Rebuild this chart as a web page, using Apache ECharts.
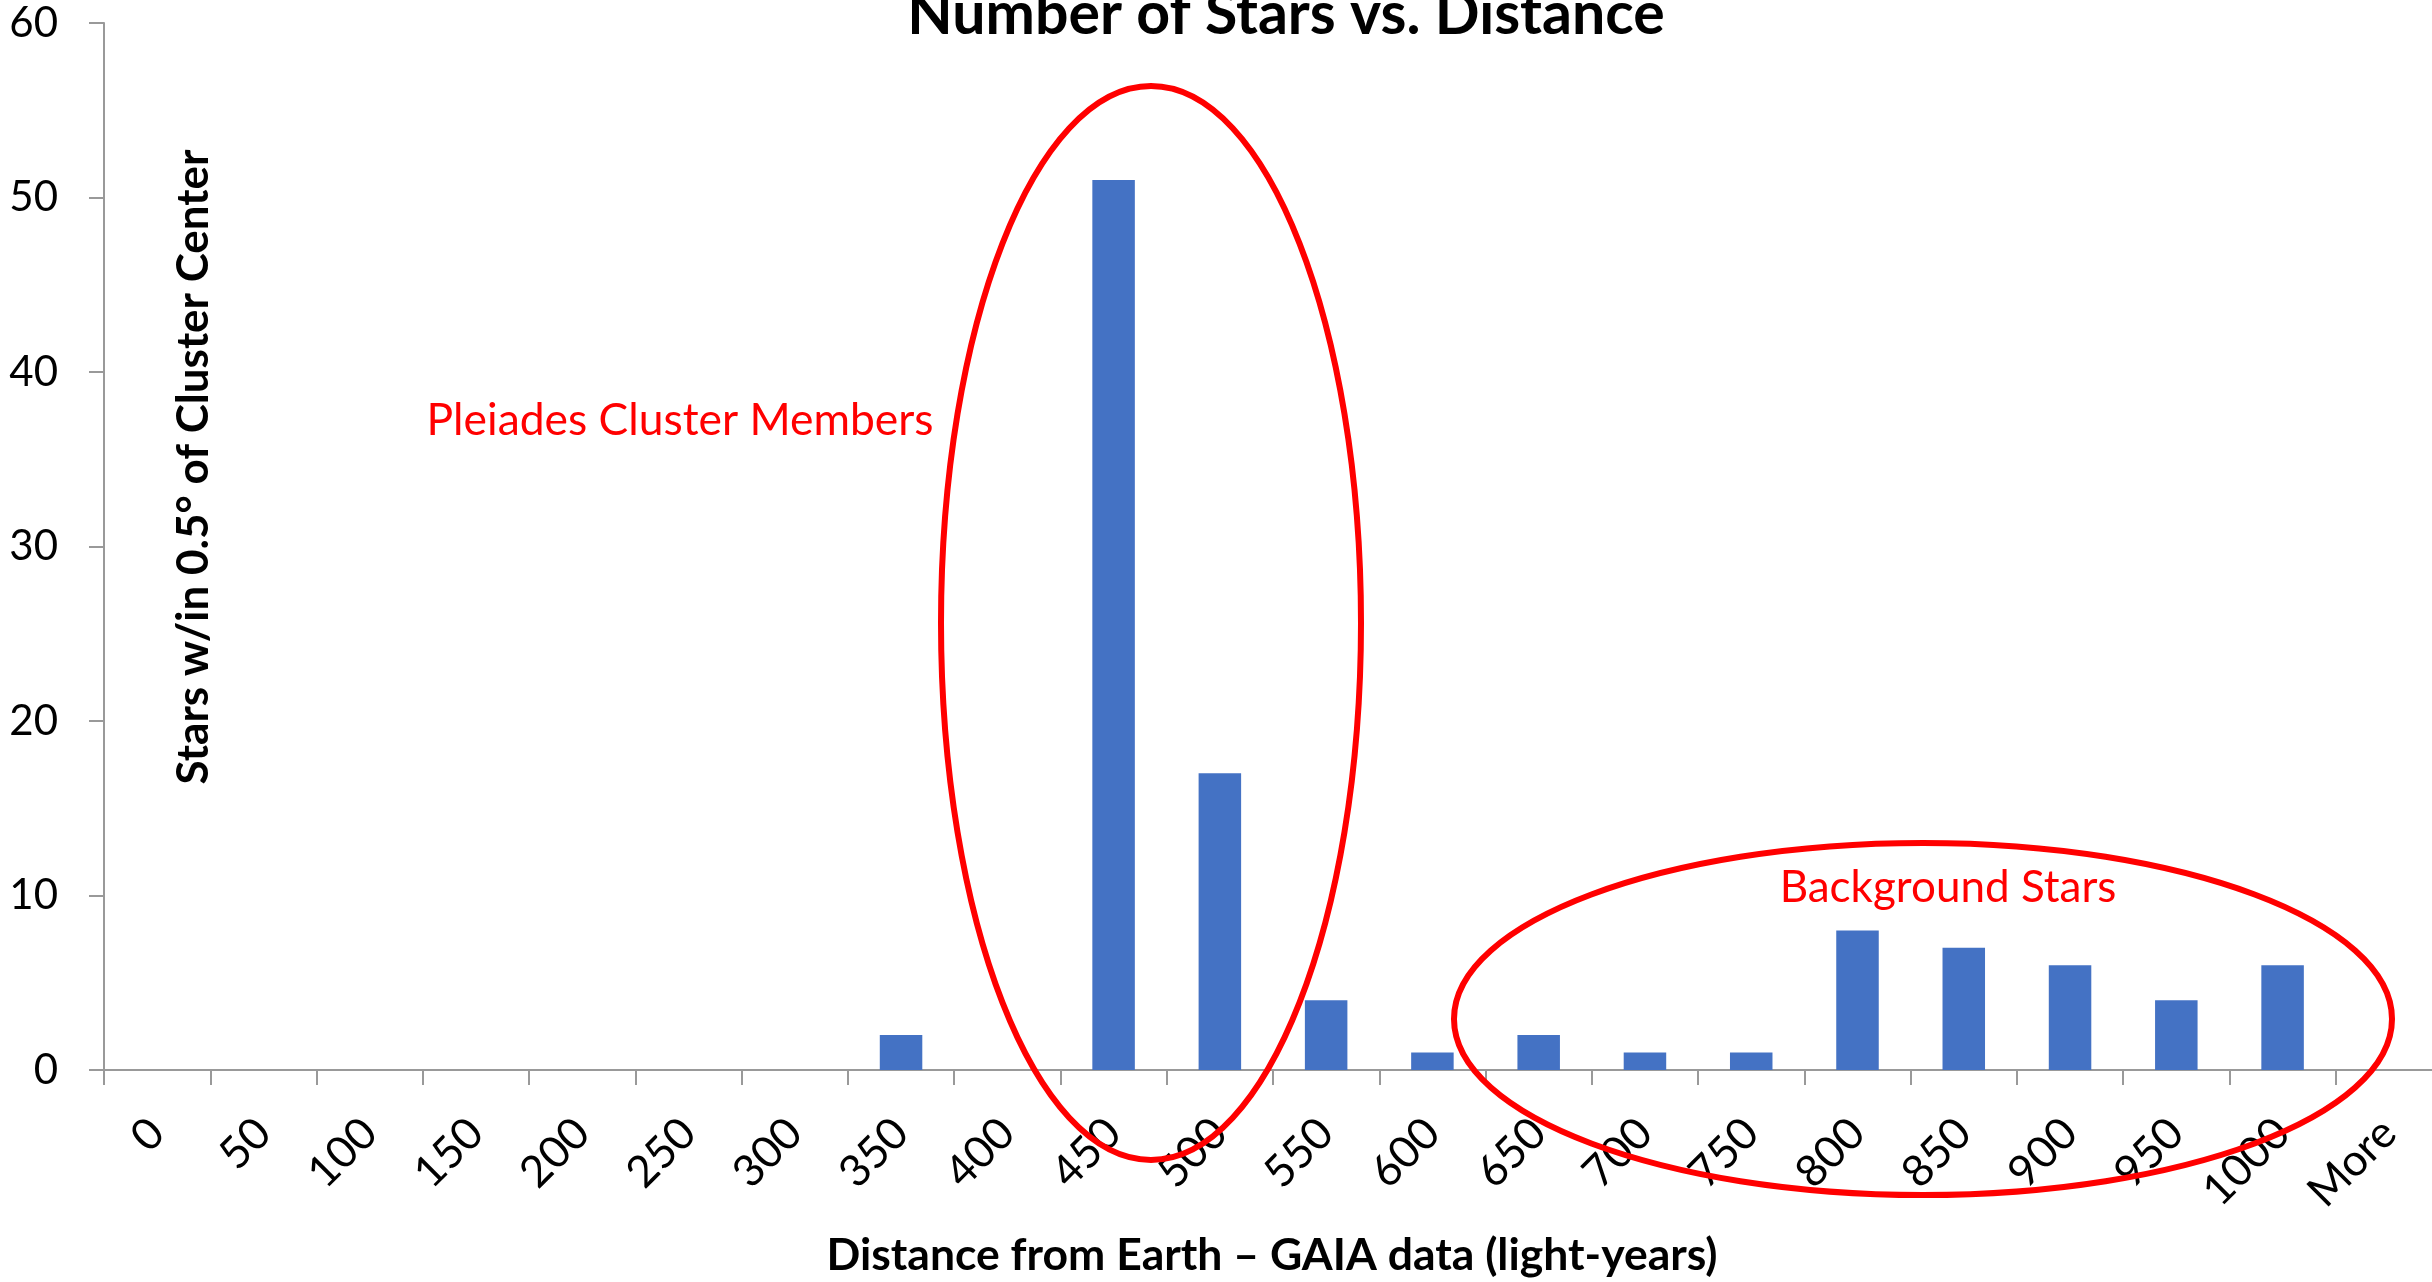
<!DOCTYPE html>
<html><head><meta charset="utf-8">
<script src="https://cdn.jsdelivr.net/npm/echarts@6/dist/echarts.min.js"></script>
<style>html,body{margin:0;padding:0;background:#fff}#c{width:2432px;height:1282px}</style>
</head><body><div id="c"></div>
<script>
// ---- data ----
const categories = ['0','50','100','150','200','250','300','350','400','450','500','550','600','650','700','750','800','850','900','950','1000','More'];
const starCounts = [0,0,0,0,0,0,0,2,0,51,17,4,1,2,1,1,8,7,6,4,6,0];
const yMin = 0, yMax = 60, yInterval = 10;
const chartTitle = 'Number of Stars vs. Distance';
const xTitle = 'Distance from Earth \u2013 GAIA data (light-years)';
const yTitle = 'Stars w/in 0.5\u00B0 of Cluster Center';
const noteCluster = 'Pleiades Cluster Members';
const noteBackground = 'Background Stars';

const FONT = 'Lato, "Open Sans", sans-serif';
const AXIS_GREY = '#999999';
const chart = echarts.init(document.getElementById('c'), null, {renderer: 'canvas'});
chart.setOption({
  backgroundColor: '#ffffff',
  animation: false,
  grid: {left: 104, top: 23, width: 2338, height: 1047, containLabel: false, outerBoundsMode: 'none'},
  xAxis: {
    type: 'category', data: categories, boundaryGap: true,
    axisLine: {lineStyle: {color: AXIS_GREY, width: 2}},
    axisTick: {show: true, length: 15, lineStyle: {color: AXIS_GREY, width: 2}},
    axisLabel: {interval: 0, rotate: 45, margin: 56, color: '#000', fontFamily: FONT, fontSize: 44},
    splitLine: {show: false}
  },
  yAxis: {
    type: 'value', min: yMin, max: yMax, interval: yInterval,
    axisLine: {show: true, lineStyle: {color: AXIS_GREY, width: 2}},
    axisTick: {show: true, length: 15, lineStyle: {color: AXIS_GREY, width: 2}},
    axisLabel: {margin: 46, color: '#000', fontFamily: FONT, fontSize: 42},
    splitLine: {show: false}
  },
  series: [{
    type: 'bar', data: starCounts, barWidth: '40%',
    itemStyle: {color: '#4472C4'}
  }],
  graphic: [
    {type: 'text', style: {text: chartTitle, x: 1286, y: 44, align: 'center', verticalAlign: 'bottom', font: 'bold 59px ' + FONT, fill: '#000'}},
    {type: 'text', style: {text: xTitle, x: 1272, y: 1256, align: 'center', verticalAlign: 'middle', font: 'bold 44.5px ' + FONT, fill: '#000'}},
    {type: 'text', x: 194, y: 467, rotation: Math.PI / 2, style: {text: yTitle, x: 0, y: 0, align: 'center', verticalAlign: 'middle', font: 'bold 44px ' + FONT, fill: '#000'}},
    {type: 'text', style: {text: noteCluster, x: 680, y: 421, align: 'center', verticalAlign: 'middle', font: '44.4px ' + FONT, fill: '#FF0000'}},
    {type: 'text', style: {text: noteBackground, x: 1948, y: 888, align: 'center', verticalAlign: 'middle', font: '44px ' + FONT, fill: '#FF0000'}},
    {type: 'ellipse', shape: {cx: 1151, cy: 623, rx: 210, ry: 537}, style: {fill: null, stroke: '#FF0000', lineWidth: 6}, z: 100},
    {type: 'ellipse', shape: {cx: 1923, cy: 1019, rx: 469, ry: 176}, style: {fill: null, stroke: '#FF0000', lineWidth: 6}, z: 100}
  ]
});
</script></body></html>
